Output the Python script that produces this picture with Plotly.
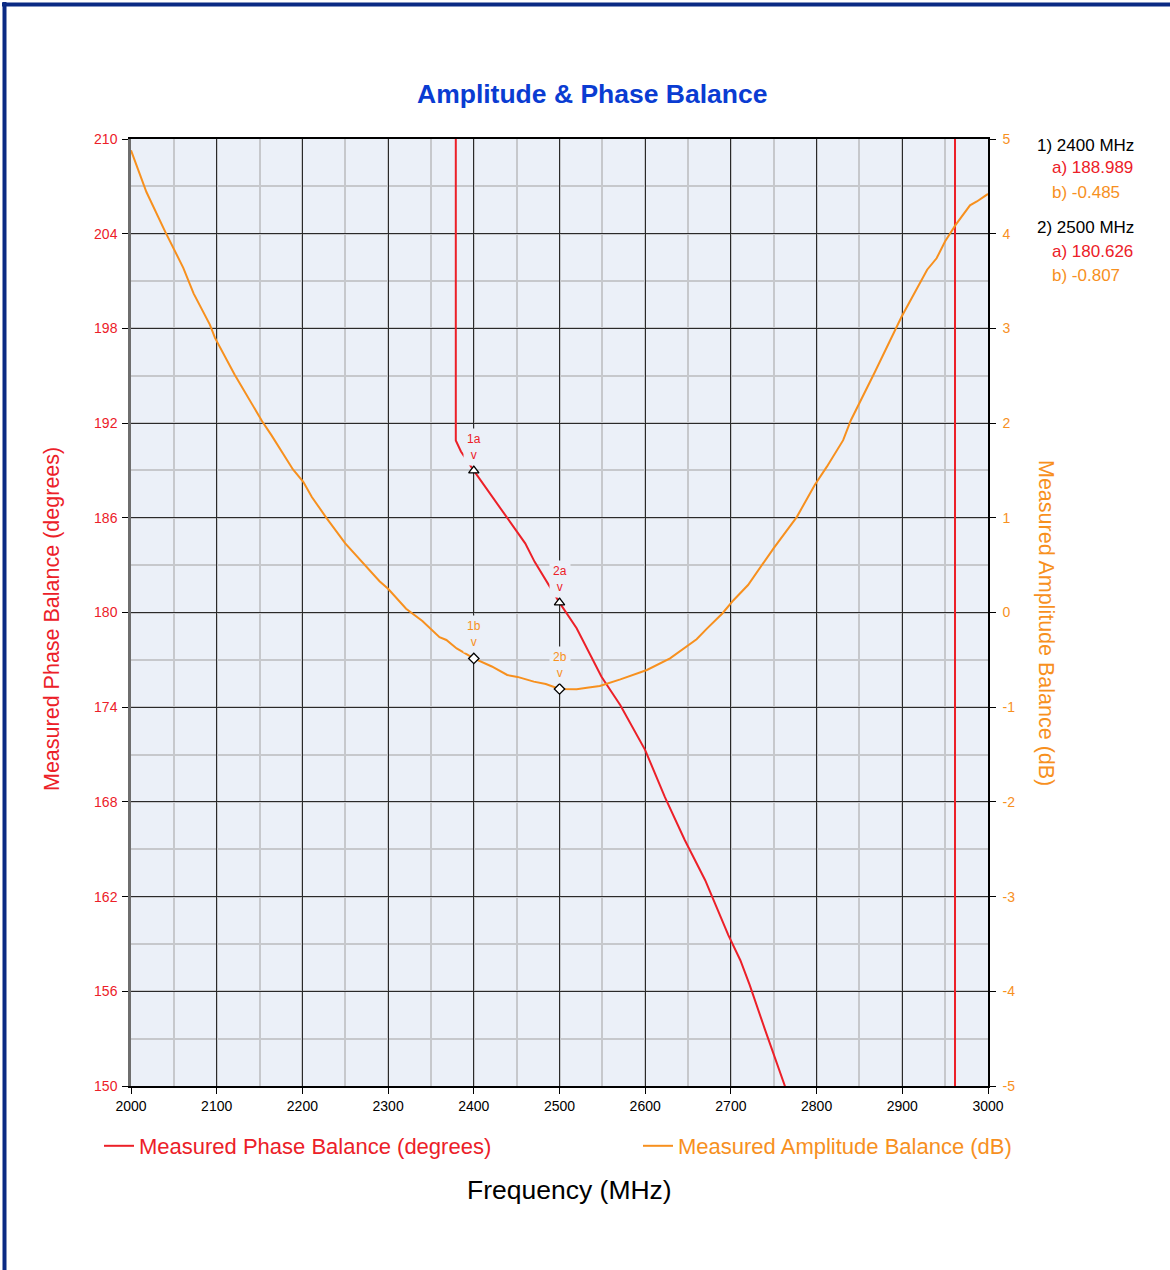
import plotly.graph_objects as go

# ---------------- data ----------------
freq_phase = [2000, 2379, 2379, 2385, 2400, 2438, 2460, 2471, 2485, 2500, 2520, 2549, 2571,
              2600, 2623, 2646, 2670, 2697, 2711, 2722, 2740, 2763, 2800, 2900, 2961.5, 2961.5, 3000]
phase_deg = [225, 222, 190.9, 190.2, 188.989, 186.07, 184.38, 183.21, 181.95, 180.626, 179.0, 175.93, 174.13,
             171.28, 168.3, 165.6, 163.04, 159.56, 157.97, 156.39, 153.54, 150.0, 143.5, 126.0, 116.0, 476.0, 470.0]

freq_amp = [2000, 2018, 2040, 2061, 2073, 2092, 2098, 2121, 2153, 2164, 2189, 2201, 2211, 2228, 2250,
            2271, 2290, 2300, 2321, 2340, 2360, 2368, 2380, 2400, 2421, 2439, 2451, 2470, 2484, 2500,
            2520, 2532, 2547, 2571, 2590, 2602, 2629, 2660, 2672, 2690, 2703, 2720, 2750, 2777, 2798,
            2812, 2831, 2840, 2868, 2895, 2899, 2929, 2940, 2950, 2962, 2979, 2987, 3000]
amp_db = [4.88, 4.44, 4.02, 3.64, 3.37, 3.04, 2.90, 2.51, 2.02, 1.87, 1.51, 1.38, 1.22, 1.00, 0.73,
          0.52, 0.33, 0.25, 0.04, -0.09, -0.26, -0.29, -0.38, -0.485, -0.57, -0.66, -0.68, -0.73, -0.755, -0.807,
          -0.81, -0.794, -0.776, -0.706, -0.65, -0.607, -0.484, -0.283, -0.17, -0.01, 0.13, 0.29, 0.68, 1.01, 1.35,
          1.54, 1.82, 2.03, 2.54, 3.04, 3.12, 3.62, 3.74, 3.92, 4.09, 4.30, 4.34, 4.42]

marker_freq = [2400, 2500]
marker_phase = [188.989, 180.626]
marker_amp = [-0.485, -0.807]
marker_ids = ["1", "2"]

x_ticks = [2000, 2100, 2200, 2300, 2400, 2500, 2600, 2700, 2800, 2900, 3000]
y_ticks = [150, 156, 162, 168, 174, 180, 186, 192, 198, 204, 210]
y2_ticks = [-5, -4, -3, -2, -1, 0, 1, 2, 3, 4, 5]
y2_ticktext = ["-5", "-4", "-3", "-2", "-1", "0", "1", "2", "3", "4", "5"]

# ---------------- styles ----------------
RED = "#EC2028"
ORANGE = "#F7901E"
BLUE = "#0A3CD2"
PLOT_BG = "#EBF0F8"
FONT = "Liberation Sans, Arial, sans-serif"

W, H = 1170, 1270
L, R, T, B = 131, 182, 139, 184
PW, PH = W - L - R, H - T - B


def px(xp):
    return (xp - L) / PW


def py(yp):
    return (H - B - yp) / PH


fig = go.Figure()

fig.add_trace(go.Scatter(
    x=freq_phase, y=phase_deg, mode="lines", name="Measured Phase Balance (degrees)",
    line=dict(color=RED, width=2), legend="legend", yaxis="y", hoverinfo="skip"))
fig.add_trace(go.Scatter(
    x=freq_amp, y=amp_db, mode="lines", name="Measured Amplitude Balance (dB)",
    line=dict(color=ORANGE, width=2), legend="legend2", yaxis="y2", hoverinfo="skip"))

fig.add_trace(go.Scatter(
    x=marker_freq, y=marker_phase, mode="markers", showlegend=False, yaxis="y",
    marker=dict(symbol="triangle-up", size=9, color="white", line=dict(color="black", width=1.3))))
fig.add_trace(go.Scatter(
    x=marker_freq, y=marker_amp, mode="markers", showlegend=False, yaxis="y2",
    marker=dict(symbol="diamond", size=8, color="white", line=dict(color="black", width=1.3))))

annotations = []
for mid, f, p, a in zip(marker_ids, marker_freq, marker_phase, marker_amp):
    annotations.append(dict(x=f, y=p, xref="x", yref="y", text=mid + "a<br>v", showarrow=False,
                            yanchor="bottom", yshift=5, bgcolor=PLOT_BG, borderpad=3,
                            font=dict(family=FONT, size=12, color=RED)))
    annotations.append(dict(x=f, y=a, xref="x", yref="y2", text=mid + "b<br>v", showarrow=False,
                            yanchor="bottom", yshift=5, bgcolor=PLOT_BG, borderpad=3,
                            font=dict(family=FONT, size=12, color=ORANGE)))

# side read-out
side_y = [(145, 168, 192), (227, 251, 275)]
for (y1, y2, y3), mid, f, p, a in zip(side_y, marker_ids, marker_freq, marker_phase, marker_amp):
    annotations.append(dict(x=px(1035), y=py(y1), xref="paper", yref="paper", showarrow=False,
                            xanchor="left", yanchor="middle", text=f"{mid}) {f} MHz",
                            font=dict(family=FONT, size=17, color="black")))
    annotations.append(dict(x=px(1050), y=py(y2), xref="paper", yref="paper", showarrow=False,
                            xanchor="left", yanchor="middle", text=f"a) {p:.3f}",
                            font=dict(family=FONT, size=17, color=RED)))
    annotations.append(dict(x=px(1050), y=py(y3), xref="paper", yref="paper", showarrow=False,
                            xanchor="left", yanchor="middle", text=f"b) {a:.3f}",
                            font=dict(family=FONT, size=17, color=ORANGE)))

# title & axis titles
annotations += [
    dict(x=px(592), y=py(94), xref="paper", yref="paper", showarrow=False,
         text="<b>Amplitude &amp; Phase Balance</b>", xanchor="center", yanchor="middle",
         font=dict(family=FONT, size=26.5, color=BLUE)),
    dict(x=px(52), y=py(619), xref="paper", yref="paper", showarrow=False, textangle=-90,
         text="Measured Phase Balance (degrees)", xanchor="center", yanchor="middle",
         font=dict(family=FONT, size=21.5, color=RED)),
    dict(x=px(1046), y=py(623), xref="paper", yref="paper", showarrow=False, textangle=90,
         text="Measured Amplitude Balance (dB)", xanchor="center", yanchor="middle",
         font=dict(family=FONT, size=21.5, color=ORANGE)),
    dict(x=px(569), y=py(1190), xref="paper", yref="paper", showarrow=False,
         text="Frequency (MHz)", xanchor="center", yanchor="middle",
         font=dict(family=FONT, size=26.5, color="black")),
]

shapes = [
    dict(type="line", xref="paper", yref="paper", x0=px(2), x1=px(1172), y0=py(4.5), y1=py(4.5),
         line=dict(color="#0B2A84", width=4)),
    dict(type="line", xref="paper", yref="paper", x0=px(4.5), x1=px(4.5), y0=py(2), y1=py(1272),
         line=dict(color="#0B2A84", width=4)),
]

fig.update_layout(
    width=W, height=H,
    margin=dict(l=L, r=R, t=T, b=B),
    paper_bgcolor="white", plot_bgcolor=PLOT_BG,
    font=dict(family=FONT, size=14, color="black"),
    showlegend=True,
    legend=dict(orientation="h", x=px(99), xanchor="left", y=py(1146), yanchor="middle",
                font=dict(family=FONT, size=22, color=RED), bgcolor="rgba(0,0,0,0)"),
    legend2=dict(orientation="h", x=px(638), xanchor="left", y=py(1146), yanchor="middle",
                 font=dict(family=FONT, size=22, color=ORANGE), bgcolor="rgba(0,0,0,0)"),
    xaxis=dict(range=[2000, 3000], tickvals=x_ticks, ticks="outside", ticklen=6, tickcolor="black",
               showline=True, mirror=True, linecolor="black", linewidth=1.5,
               showgrid=True, gridcolor="#2A2A2A", gridwidth=1.3, zeroline=False,
               minor=dict(dtick=50, tick0=2000, showgrid=True, gridcolor="#C6C8CC", gridwidth=1.6),
               tickfont=dict(family=FONT, size=14, color="black")),
    yaxis=dict(range=[150, 210], tickvals=y_ticks, ticks="outside", ticklen=6, tickcolor="black",
               showline=True, linecolor="#6E6E6E", linewidth=2.5,
               showgrid=True, gridcolor="#2A2A2A", gridwidth=1.3, zeroline=False,
               minor=dict(dtick=3, tick0=150, showgrid=True, gridcolor="#C6C8CC", gridwidth=1.6),
               tickfont=dict(family=FONT, size=14, color=RED), ticklabelstandoff=2),
    yaxis2=dict(range=[-5, 5], tickvals=y2_ticks, ticktext=y2_ticktext, overlaying="y", side="right",
                ticks="outside", ticklen=6, tickcolor="black",
                showline=True, linecolor="black", linewidth=1.5, showgrid=False, zeroline=False,
                tickfont=dict(family=FONT, size=14, color=ORANGE), ticklabelstandoff=4),
    annotations=annotations,
    shapes=shapes,
)

fig.write_html("out.html", config={"displayModeBar": False},
               post_script="document.body.style.margin='0';")
